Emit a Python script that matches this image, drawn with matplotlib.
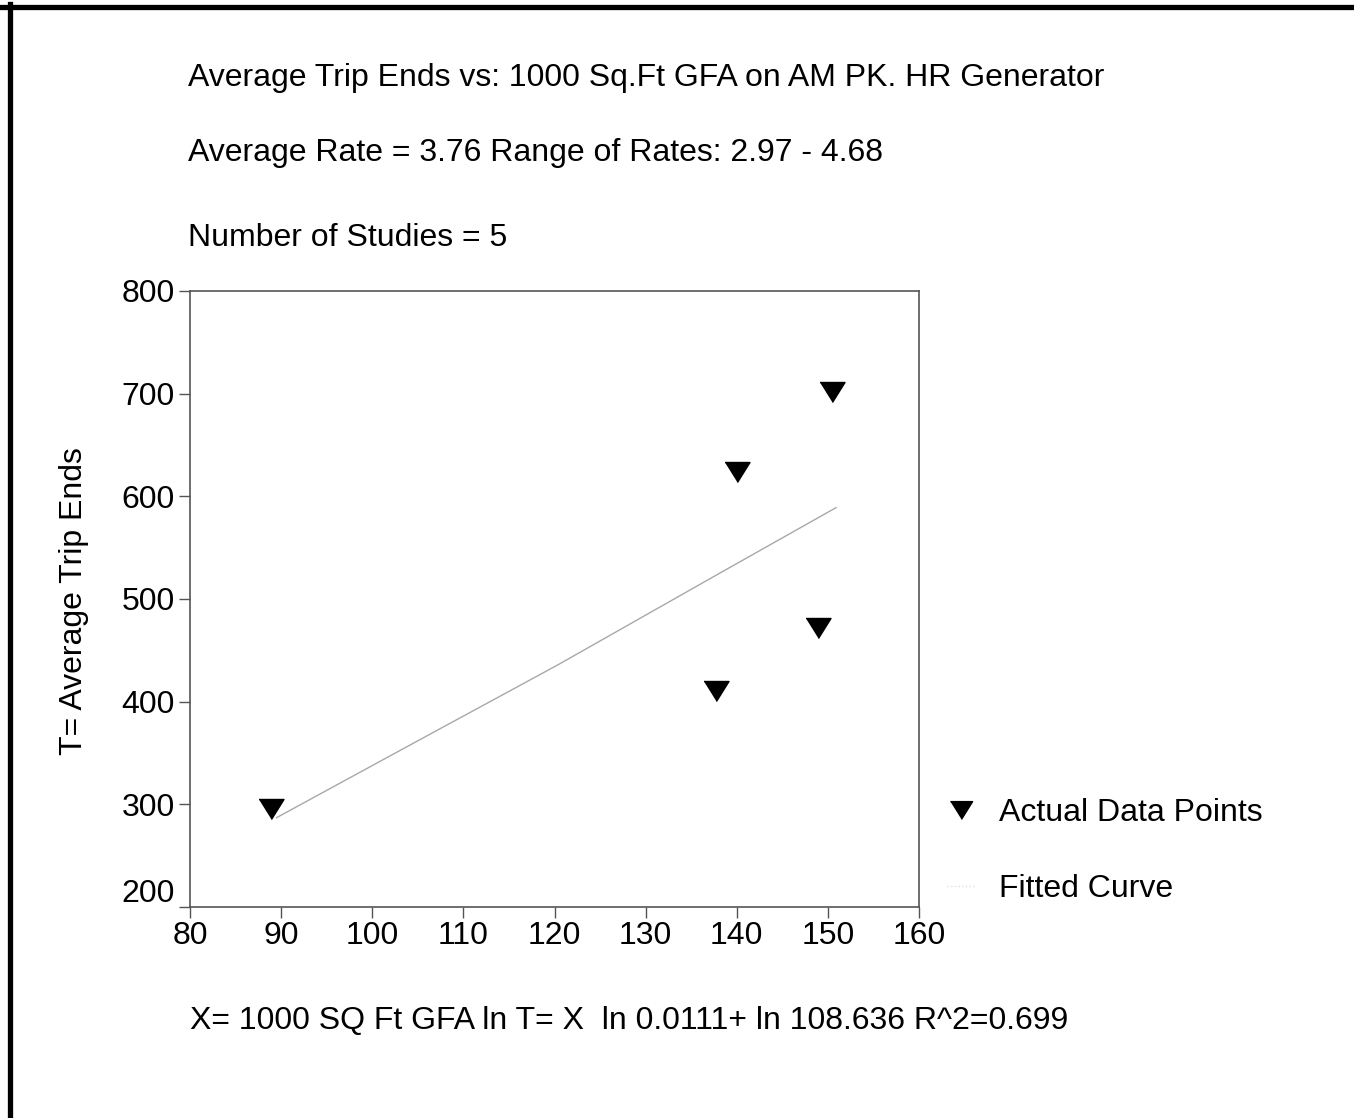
import matplotlib
matplotlib.use("Agg")
import matplotlib.pyplot as plt
from matplotlib.lines import Line2D
from matplotlib.transforms import ScaledTranslation

plt.rcParams["font.family"] = ["Liberation Sans", "DejaVu Sans"]

# data
gfa = [88.9, 137.7, 140.0, 148.9, 150.5]
trips = [295, 410, 624, 472, 702]

curve_x = [89.5, 104.4, 120.4, 137.9, 150.9]
curve_y = [287, 359, 436, 524, 589]

x_ticks = [80, 90, 100, 110, 120, 130, 140, 150, 160]
y_ticks = [200, 300, 400, 500, 600, 700, 800]

header = [
    "Average Trip Ends vs: 1000 Sq.Ft GFA on AM PK. HR Generator",
    "Average Rate = 3.76 Range of Rates: 2.97 - 4.68",
    "Number of Studies = 5",
]
footer = "X= 1000 SQ Ft GFA ln T= X  ln 0.0111+ ln 108.636 R^2=0.699"

W, H = 1354, 1118
fig = plt.figure(figsize=(W / 100, H / 100), dpi=100)
ax = fig.add_axes([190 / W, 1 - 907 / H, (919 - 190) / W, (907 - 291) / H])

tri = [(-1, 0.8), (1, 0.8), (0, -0.8)]
ax.plot(curve_x, curve_y, color="#a8a8a8", lw=1.0, zorder=2)
ax.plot(gfa, trips, linestyle="none", marker=tri, ms=18, color="black", zorder=3)

ax.set_xlim(80, 160)
ax.set_ylim(200, 800)
ax.set_xticks(x_ticks)
ax.set_yticks(y_ticks)
ax.tick_params(labelsize=23, length=8, width=1, color="#555555")
ax.tick_params(axis="x", pad=2)
ax.tick_params(axis="y", pad=3)
for s in ax.spines.values():
    s.set_color("#555555")
    s.set_linewidth(1.2)

# the bottom y label sits a bit higher to clear the x labels
lab200 = ax.get_yticklabels()[0]
lab200.set_transform(lab200.get_transform() + ScaledTranslation(0, 17 / 100, fig.dpi_scale_trans))

ax.set_ylabel("T= Average Trip Ends", fontsize=23)
ax.yaxis.set_label_coords((89 - 190) / (919 - 190), 0.5 - (601 - 599) / 616)

for txt, y in zip(header, [78, 153, 238]):
    fig.text(188 / W, 1 - y / H, txt, fontsize=23, va="center", ha="left")
fig.text(190 / W, 1 - 1021 / H, footer, fontsize=23, va="center", ha="left")

# legend on the right
pts = Line2D([], [], linestyle="none", marker=tri, ms=16, color="black")
fit = Line2D([], [], color="#e0e0e0", lw=1.0, linestyle=":")
fig.legend([pts, fit], ["Actual Data Points", "Fitted Curve"], loc="center left",
           bbox_to_anchor=(918 / W, 1 - 851 / H), frameon=False,
           fontsize=23, handlelength=0.9, labelspacing=1.46, handletextpad=0.75)

# page border lines (top and left)
fig.add_artist(Line2D([0, 1], [1 - 6.5 / H, 1 - 6.5 / H], color="black", lw=3.8,
                      transform=fig.transFigure))
fig.add_artist(Line2D([10 / W, 10 / W], [0, 1 - 4 / H], color="black", lw=3.8,
                      transform=fig.transFigure))

fig.savefig("out.png", dpi=100)
